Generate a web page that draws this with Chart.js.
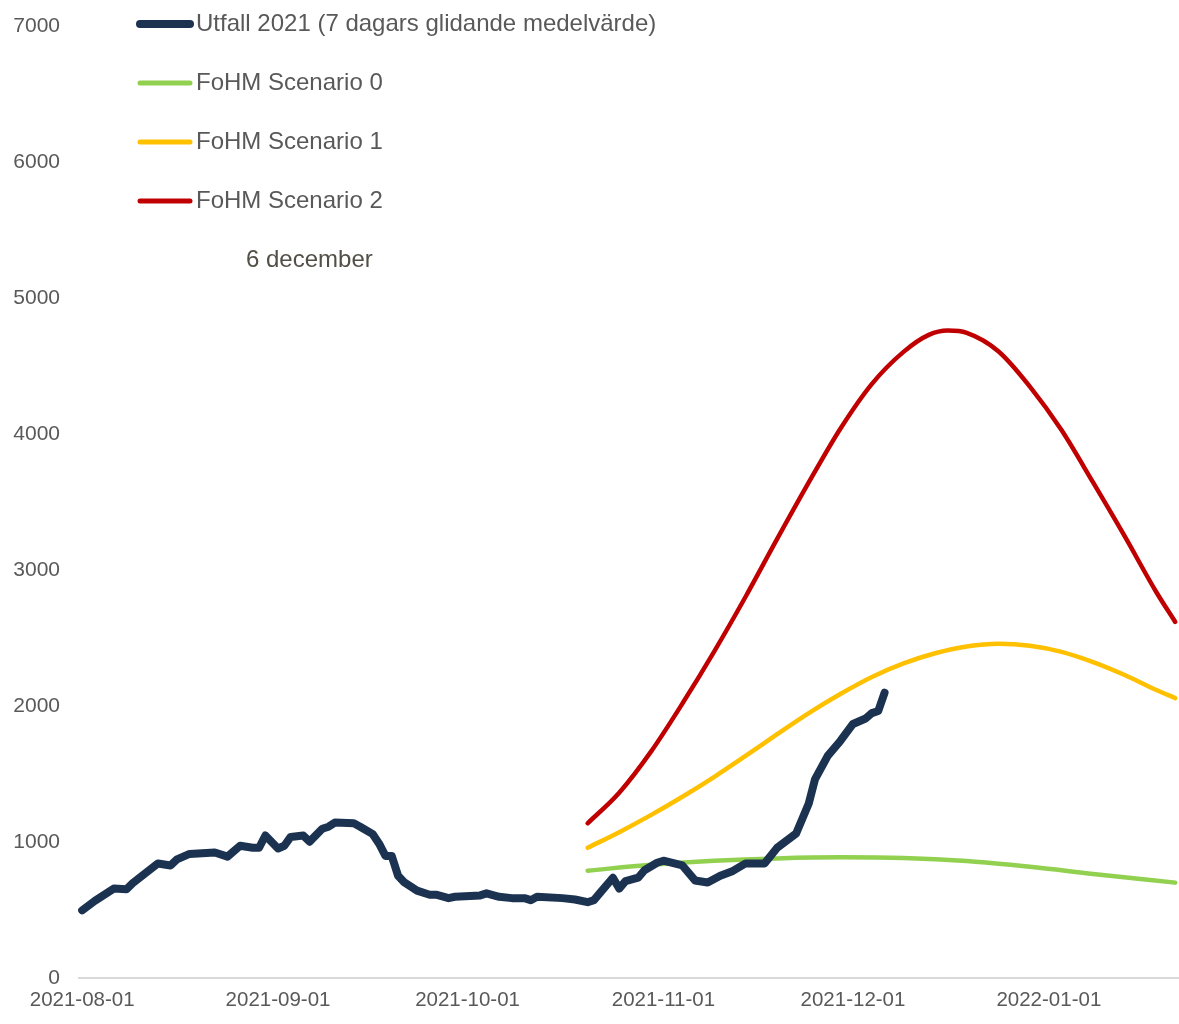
<!DOCTYPE html>
<html>
<head>
<meta charset="utf-8">
<script src="https://cdn.jsdelivr.net/npm/chart.js@4"></script>
<style>
  html, body { margin: 0; padding: 0; background: #fff; }
  #wrap { width: 1179px; height: 1024px; position: relative; }
</style>
</head>
<body>
<div id="wrap"><canvas id="myChart"></canvas></div>
<script>
// days counted from 2021-08-01
let tickDays = [0, 31, 61, 92, 122, 153];
let tickLabels = ["2021-08-01", "2021-09-01", "2021-10-01", "2021-11-01", "2021-12-01", "2022-01-01"];

let seriesNames = [
  "Utfall 2021 (7 dagars glidande medelvärde)",
  "FoHM Scenario 0",
  "FoHM Scenario 1",
  "FoHM Scenario 2",
];
let noteText = "6 december";

let utfallDays = [0, 2, 5, 7, 8, 12, 14, 15, 17, 21, 23, 25, 27, 28, 29, 31, 32, 33, 35, 36,
  38, 39, 40, 43, 44, 46, 47, 48, 49, 50, 51, 53, 55, 56, 58, 59, 63, 64, 66, 68,
  70, 71, 72, 76, 78, 80, 81, 82, 84, 85, 86, 88, 89, 91, 92, 95, 97, 99, 101, 103,
  105, 108, 110, 113, 115, 116, 118, 120, 122, 124, 125, 126, 127];
let utfallValues = [500, 570, 660, 655, 700, 845, 830, 875, 915, 925, 895, 975, 960, 960, 1050, 955, 975, 1040, 1050, 1005,
  1100, 1115, 1145, 1140, 1115, 1060, 990, 900, 900, 755, 705, 645, 615, 615, 590, 600, 610, 625, 600, 590,
  590, 575, 600, 590, 580, 560, 575, 630, 740, 660, 715, 740, 795, 850, 865, 830, 720, 705, 755, 790,
  845, 845, 960, 1065, 1285, 1465, 1635, 1745, 1870, 1910, 1950, 1965, 2100];

let scen0Days = [80, 90, 100, 110, 120, 130, 140, 150, 160, 173];
let scen0Values = [792, 835, 864, 882, 890, 885, 862, 820, 768, 704];

let scen1Days = [80, 85, 90, 95, 100, 105, 110, 115, 120, 125, 130, 135, 140, 145, 150, 155, 160, 165, 170, 173];
let scen1Values = [960, 1075, 1200, 1335, 1480, 1635, 1795, 1950, 2090, 2215, 2315, 2390, 2440, 2460, 2445, 2400, 2325, 2230, 2120, 2060];

let scen2Days = [80, 85, 90, 95, 100, 105, 110, 115, 120, 125, 130, 134, 137, 140, 145, 150, 155, 160, 165, 170, 173];
let scen2Values = [1140, 1365, 1665, 2020, 2400, 2805, 3230, 3645, 4040, 4370, 4605, 4730, 4762, 4745, 4610, 4350, 4030, 3645, 3250, 2840, 2620];

let colors = ["#1c3251", "#92d050", "#ffc000", "#c00000"];
let widths = [8, 4.5, 4.5, 4.5];

toPoints = (days, values) => days.map((d, i) => ({ x: d, y: values[i] }));

// legend drawn inside the plot, top left, plus the date note
let insideLegend = {
  id: "insideLegend",
  afterDraw: (chart) => {
    let ctx = chart.ctx;
    ctx.save();
    ctx.font = "24px 'Liberation Sans', Arial, sans-serif";
    ctx.textBaseline = "middle";
    ctx.lineCap = "round";
    chart.data.datasets.forEach((ds, i) => {
      let y = 24 + i * 59;
      ctx.strokeStyle = ds.borderColor;
      ctx.lineWidth = i === 0 ? 8 : 5;
      ctx.beginPath();
      ctx.moveTo(140, y);
      ctx.lineTo(190, y);
      ctx.stroke();
      ctx.fillStyle = "#595959";
      ctx.textAlign = "left";
      ctx.fillText(ds.label, 196, y);
    });
    ctx.fillStyle = "#524f47";
    ctx.fillText(noteText, 246, 260);
    ctx.restore();
  },
};

let ctx = document.getElementById("myChart").getContext("2d");
let chart = new Chart(ctx, {
  type: "line",
  data: {
    datasets: [
      { label: seriesNames[0], data: toPoints(utfallDays, utfallValues), borderColor: colors[0], backgroundColor: colors[0], borderWidth: widths[0], tension: 0, clip: false },
      { label: seriesNames[1], data: toPoints(scen0Days, scen0Values), borderColor: colors[1], backgroundColor: colors[1], borderWidth: widths[1], cubicInterpolationMode: "monotone", clip: false },
      { label: seriesNames[2], data: toPoints(scen1Days, scen1Values), borderColor: colors[2], backgroundColor: colors[2], borderWidth: widths[2], cubicInterpolationMode: "monotone", clip: false },
      { label: seriesNames[3], data: toPoints(scen2Days, scen2Values), borderColor: colors[3], backgroundColor: colors[3], borderWidth: widths[3], cubicInterpolationMode: "monotone", clip: false },
    ],
  },
  options: {
    responsive: true,
    maintainAspectRatio: false,
    animation: false,
    layout: { padding: { top: 26, left: 0, right: 0, bottom: 1 } },
    elements: {
      point: { radius: 0 },
      line: { fill: false, borderJoinStyle: "round", borderCapStyle: "round" },
    },
    plugins: {
      legend: { display: false },
      tooltip: { enabled: false },
    },
    scales: {
      x: {
        type: "linear",
        min: -0.5,
        max: 173.6,
        grid: { display: false, drawTicks: false },
        border: { display: true, color: "#d9d9d9", width: 2 },
        afterBuildTicks: (axis) => {
          axis.ticks = tickDays.map((d) => ({ value: d }));
        },
        ticks: {
          autoSkip: false,
          maxRotation: 0,
          padding: 10,
          color: "#595959",
          font: { family: "'Liberation Sans', Arial, sans-serif", size: 20.5 },
          callback: (value) => {
            let i = tickDays.indexOf(value);
            return i >= 0 ? tickLabels[i] : "";
          },
        },
      },
      y: {
        min: 0,
        max: 7000,
        grid: { display: false, drawTicks: false },
        border: { display: false },
        afterFit: (axis) => {
          axis.width = 79;
          axis.paddingTop = 0;
          axis.paddingBottom = 0;
        },
        ticks: {
          stepSize: 1000,
          padding: 19,
          color: "#595959",
          font: { family: "'Liberation Sans', Arial, sans-serif", size: 21 },
          callback: (value) => String(value),
        },
      },
    },
  },
  plugins: [insideLegend],
});
</script>
</body>
</html>
